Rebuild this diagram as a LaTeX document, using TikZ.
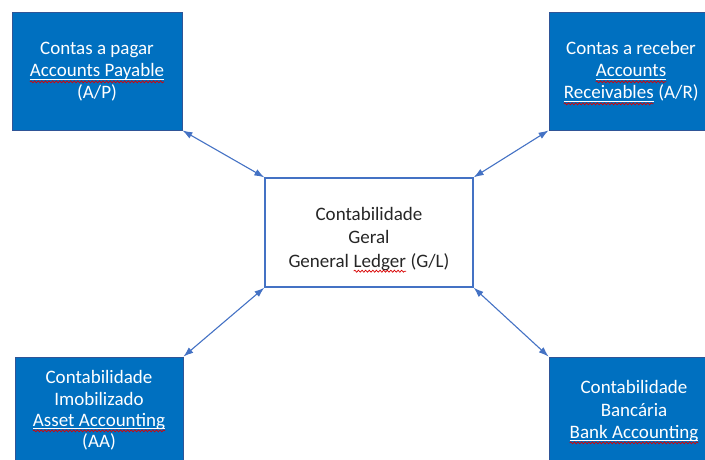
\documentclass[tikz,border=0pt]{standalone}
\usepackage{fontspec}
\setmainfont{Carlito}
\usetikzlibrary{arrows.meta,decorations.pathmorphing}

\definecolor{boxblue}{HTML}{0070C0}
\definecolor{boxedge}{HTML}{2F5597}
\definecolor{linkblue}{HTML}{4472C4}
\definecolor{inktext}{HTML}{262626}

\tikzset{
  bluebox/.style={fill=boxblue, draw=boxedge, line width=0.8pt},
  ledgerbox/.style={fill=white, draw=linkblue, line width=1.3pt},
  boxtext/.style={font=\fontsize{19}{22}\selectfont, text=white, inner sep=0pt, anchor=base},
  ledgertext/.style={boxtext, text=inktext},
  link/.style={draw=linkblue, line width=1.1pt,
    {Latex[length=10pt,width=7pt]}-{Latex[length=10pt,width=7pt]}},
  spellwave/.style={draw=red!85!black, line width=0.7pt, decorate,
    decoration={snake, amplitude=1pt, segment length=3.6pt}},
  spellline/.style={draw=white, line width=0.8pt},
}

% word marked by the spell checker (wave only, dark text)
\newcommand\squig[1]{\tikz[baseline=(sqw.base)]{%
  \node[inner sep=0pt, outer sep=0pt, anchor=base, text=inktext] (sqw) {#1};
  \draw[spellwave] ([yshift=-4.2pt]sqw.base west) -- ([yshift=-4.2pt]sqw.base east);}}
% underlined word with spell-checker wave (white text)
\newcommand\squigu[1]{\tikz[baseline=(squ.base)]{%
  \node[inner sep=0pt, outer sep=0pt, anchor=base, text=white] (squ) {#1};
  \draw[spellline] ([yshift=-2.2pt]squ.base west) -- ([yshift=-2.2pt]squ.base east);
  \draw[spellwave] ([yshift=-4.8pt]squ.base west) -- ([yshift=-4.8pt]squ.base east);}}

\begin{document}
\begin{tikzpicture}[x=1pt, y=1pt]
  \useasboundingbox (0,0) rectangle (705,459);
  \clip (0,0) rectangle (705,459);

  % boxes
  \node[bluebox, minimum width=170pt, minimum height=118pt] (ap) at (97,388) {};
  \node[bluebox, minimum width=168pt, minimum height=118pt] (ar) at (633,388) {};
  \node[ledgerbox, minimum width=208pt, minimum height=109pt] (gl) at (369,226.5) {};
  \node[bluebox, minimum width=168pt, minimum height=112pt] (aa) at (99,46) {};
  \node[bluebox, minimum width=168pt, minimum height=112pt] (ba) at (633,46) {};

  % connectors
  \draw[link] (ap.south east) -- (gl.north west);
  \draw[link] (ar.south west) -- (gl.north east);
  \draw[link] (aa.north east) -- (gl.south west);
  \draw[link] (ba.north west) -- (gl.south east);

  % Accounts Payable
  \node[boxtext] (ap1) at (97,404) {Contas a pagar};
  \node[boxtext] (ap2) at (97,382) {\squigu{Accounts Payable}};
  \node[boxtext] (ap3) at (97,360) {(A/P)};

  % Accounts Receivables
  \node[boxtext] (ar1) at (631,404) {Contas a receber};
  \node[boxtext] (ar2) at (631,382) {\squigu{Accounts}};
  \node[boxtext] (ar3) at (631,360) {\squigu{Receivables} (A/R)};

  % General Ledger
  \node[ledgertext] (gl1) at (369,239) {Contabilidade};
  \node[ledgertext] (gl2) at (369,216) {Geral};
  \node[ledgertext] (gl3) at (369,192) {General \squig{Ledger} (G/L)};

  % Asset Accounting
  \node[boxtext] (aa1) at (99,76) {Contabilidade};
  \node[boxtext] (aa2) at (99,54) {Imobilizado};
  \node[boxtext] (aa3) at (99,33) {\squigu{Asset Accounting}};
  \node[boxtext] (aa4) at (99,12) {(AA)};

  % Bank Accounting
  \node[boxtext] (ba1) at (634,66) {Contabilidade};
  \node[boxtext] (ba2) at (634,43) {Bancária};
  \node[boxtext] (ba3) at (634,21) {\squigu{Bank Accounting}};
\end{tikzpicture}
\end{document}
